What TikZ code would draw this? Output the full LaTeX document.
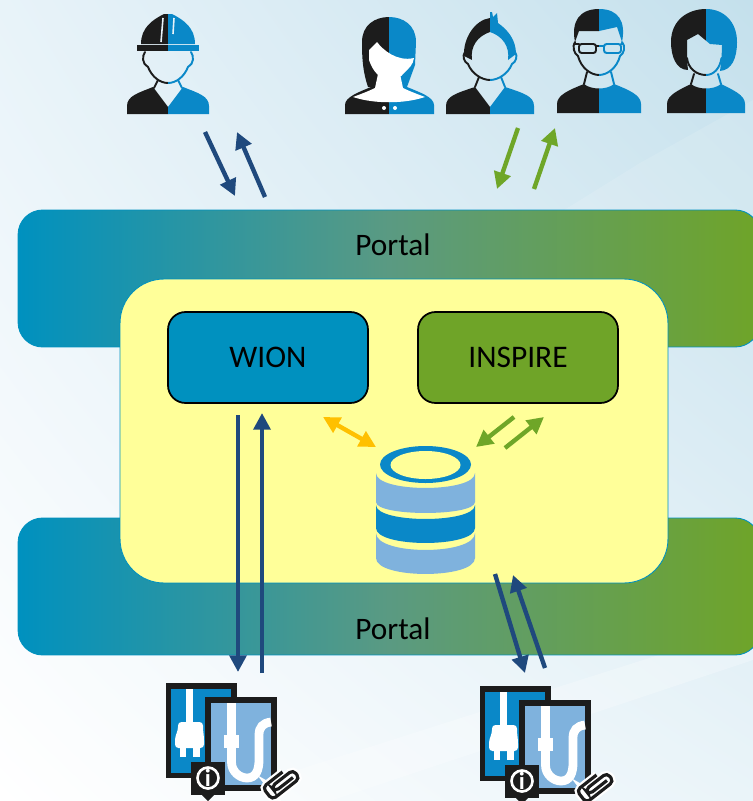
\documentclass[tikz,border=0pt]{standalone}
\usepackage{fontspec}
\setmainfont{Carlito}
\usetikzlibrary{arrows.meta,shadings}

\definecolor{wionblue}{HTML}{0091BF}
\definecolor{inspiregreen}{HTML}{6FA428}
\definecolor{bandmiddle}{HTML}{5A9A82}
\definecolor{coreyellow}{HTML}{FFFF99}
\definecolor{navyline}{HTML}{1F497D}
\definecolor{greenline}{HTML}{6FA628}
\definecolor{amberline}{HTML}{FFC000}
\definecolor{iconblack}{HTML}{1C1C1C}
\definecolor{iconblue}{HTML}{0A88C8}
\definecolor{iconlight}{HTML}{7FB2DD}
\definecolor{skyleft}{HTML}{E8F3F9}
\definecolor{skyright}{HTML}{C4E0EC}
\definecolor{floorright}{HTML}{EAF4F9}

\tikzset{
    band/.style={draw=wionblue, line width=0.5pt, rounded corners=14pt, left color=wionblue, right color=inspiregreen, middle color=bandmiddle, minimum width=14.84cm, minimum height=2.74cm, inner sep=0},
    appbox/.style={draw=black, line width=1pt, rounded corners=10pt, minimum width=4cm, minimum height=1.82cm, font=\fontsize{17.9}{21}\selectfont},
    label/.style={font=\fontsize{17.8}{21}\selectfont},
    navyarrow/.style={-{Triangle[length=9.5pt,width=9.5pt]}, draw=navyline, line width=2.5pt},
    greenarrow/.style={-{Triangle[length=9.5pt,width=9.5pt]}, draw=greenline, line width=2.5pt},
    amberarrow/.style={{Triangle[length=9.5pt,width=9.5pt]}-{Triangle[length=9.5pt,width=9.5pt]}, draw=amberline, line width=2.5pt},
    outline/.style={line width=1.1pt, line cap=round},
}

% draws #1 twice: black left of x=0, blue right of it
\newcommand{\bothhalves}[1]{
    \begin{scope}
        \clip (-60,0) rectangle (0,120);
        \def\halfcol{iconblack}
        #1
    \end{scope}
    \begin{scope}
        \clip (0,0) rectangle (60,120);
        \def\halfcol{iconblue}
        #1
    \end{scope}
}
\newcommand{\bustvee}[1]{
    \fill[\halfcol] (-#1,114) -- (-#1,106) .. controls (-#1,96) and (-#1+11,93) .. (-15,87) -- (0,107) -- (15,87) .. controls (#1-11,93) and (#1,96) .. (#1,106) -- (#1,114) -- cycle;
}
\newcommand{\bustround}[1]{
    \fill[\halfcol] (-#1,113) -- (-#1,104) .. controls (-#1,95) and (-#1+12,90) .. (-15,84) .. controls (-8,90) and (8,90) .. (15,84) .. controls (#1-12,90) and (#1,95) .. (#1,104) -- (#1,113) -- cycle;
}
\newcommand{\dbband}[5]{
    \fill[#5] (376,#1) .. controls (376,#1+1.33*#2) and (475,#1+1.33*#2) .. (475,#1) -- (475,#3) .. controls (475,#3+1.33*#4) and (376,#3+1.33*#4) .. (376,#3) -- cycle;
}
\newcommand{\deviceicon}[3]{
    \begin{scope}[shift={(#2,#3)}]
        \fill[iconblack] (166,683) rectangle (237,778);
        \fill[iconblue] (171,689) rectangle (231,773);
        \fill[white] (186,689) rectangle (193,723);
        \fill[white, rounded corners=2pt] (175,748) -- (175,737) -- (178,730) -- (178,722) -- (203,722) -- (203,730) -- (204,737) -- (204,748) -- cycle;
        \fill[white] (180,746) rectangle (186,757);
        \fill[white] (193,746) rectangle (200,757);
        \fill[iconblack] (205,697) rectangle (277,791);
        \fill[iconlight] (211,703) rectangle (271,785);
        \draw[white, line width=5pt] (231.5,746) -- (231.5,762) .. controls (231.5,772) and (240,778) .. (247,778) .. controls (256,778) and (259,770) .. (259,760) -- (259,735) .. controls (259,727) and (263,723) .. (271,722);
        \fill[white] (227,703) rectangle (236,735);
        \fill[white] (224,735) rectangle (239,748);
        \fill[iconblack] (191,762) rectangle (225,795);
        \fill[iconblack] (202,795) -- (208,801) -- (214,795) -- cycle;
        \draw[white, line width=1.5pt] (208,778) circle (10.5);
        \node[white, inner sep=0, font=\fontsize{14}{14}\selectfont\bfseries] (info#1) at (208,777.5) {i};
        \begin{scope}[shift={(282,783)}, rotate=38, scale=1.2, rounded corners=2.5pt]
            \draw[white, line width=4.4pt] (10,2) -- (-9,2) -- (-9,-3) -- (14,-3) -- (14,6) -- (-15,6) -- (-15,-7) -- (6,-7);
            \draw[iconblack, line width=1.8pt] (10,2) -- (-9,2) -- (-9,-3) -- (14,-3) -- (14,6) -- (-15,6) -- (-15,-7) -- (6,-7);
        \end{scope}
    \end{scope}
}

\begin{document}
\begin{tikzpicture}[x=0.02cm, y=-0.02cm]
    \clip (0,0) rectangle (753,801);
    % backdrop
    \shade[upper left=skyleft, upper right=skyright, lower left=white, lower right=floorright] (0,0) rectangle (753,801);
    \fill[white, opacity=0.12] (753,100) -- (640,163) -- (540,225) -- (753,225) -- cycle;
    \fill[white, opacity=0.25] (200,801) -- (753,625) -- (753,660) -- (330,801) -- cycle;

    % portal bands, core and applications
    \node[band] (portaltop) at (389,278.5) {};
    \node[band] (portalbottom) at (389,586.5) {};
    \node[draw=wionblue, line width=0.5pt, fill=coreyellow, rounded corners=25pt, minimum width=10.96cm, minimum height=6.08cm, inner sep=0] (core) at (394,431) {};
    \node[label] (portaltoplabel) at (393,245) {Portal};
    \node[label] (portalbottomlabel) at (393,629) {Portal};
    \node[appbox, fill=wionblue] (wion) at (268,357.5) {WION};
    \node[appbox, fill=inspiregreen] (inspire) at (518,357.5) {INSPIRE};

    % database
    \dbband{473}{15}{502}{11}{iconlight}
    \dbband{505}{14}{528}{15}{iconblue}
    \dbband{533}{17}{558}{16}{iconlight}
    \fill[iconblue] (425.5,464.5) ellipse [x radius=45.5, y radius=18.5];
    \fill[coreyellow] (425.5,465) ellipse [x radius=35, y radius=14];

    % engineer
    \begin{scope}[shift={(168,0)}]
        \bothhalves{
            \bustvee{41}
            \fill[\halfcol] (-27,44) .. controls (-27,28) and (-16,20) .. (-4,14) -- (4,14) .. controls (16,20) and (27,28) .. (27,44) -- cycle;
            \fill[\halfcol] (-31,45) rectangle (31,51);
            \draw[\halfcol, outline] (-23,52) .. controls (-26,56) and (-26,64) .. (-20,67) .. controls (-16,77) and (-8,83) .. (0,83) .. controls (8,83) and (16,77) .. (20,67) .. controls (26,64) and (26,56) .. (23,52);
            \draw[\halfcol, outline] (-10,80) -- (-14,88);
            \draw[\halfcol, outline] (10,80) -- (14,88);
        }
        \draw[skyleft, line width=0.9pt] (-5,18) -- (-7,42);
        \draw[skyleft, line width=0.9pt] (6,18) -- (5,34);
    \end{scope}

    % long hair
    \begin{scope}[shift={(389,0)}]
        \bothhalves{
            \fill[\halfcol] (-21,87) .. controls (-26,72) and (-27,60) .. (-27,42) .. controls (-27,25) and (-14,17) .. (0,17) .. controls (14,17) and (27,25) .. (27,42) -- (26,65) -- (18,87) -- cycle;
            \fill[\halfcol] (-44,114) -- (-44,105) .. controls (-44,97) and (-30,92) .. (-18,87) -- (18,87) .. controls (30,92) and (45,97) .. (45,105) -- (45,114) -- cycle;
        }
        \fill[white] (-20,50) -- (-12,42) .. controls (-6,50) and (8,62) .. (25,58) .. controls (24,65) and (20,68) .. (16,72) .. controls (12,78) and (5,80) .. (0,80) .. controls (-8,80) and (-16,72) .. (-20,60) -- cycle;
        \fill[white] (-11,74) -- (11,74) -- (14,88) .. controls (20,91) and (28,94) .. (36,97) .. controls (15,104) and (-15,104) .. (-36,97) .. controls (-28,94) and (-20,91) .. (-14,88) -- cycle;
        \fill[white] (-5,108) circle (2);
        \fill[white] (6,108) circle (2);
    \end{scope}

    % spiky hair
    \begin{scope}[shift={(490,0)}]
        \bothhalves{
            \bustvee{44}
            \fill[\halfcol] (-26,56) .. controls (-27,38) and (-15,20) .. (0,18) -- (0,12) -- (2,12) -- (3,17) -- (7,13) -- (8,23) .. controls (18,30) and (26,40) .. (26,54) -- (18,60) .. controls (20,46) and (12,36) .. (0,32) .. controls (-12,36) and (-20,46) .. (-18,60) -- cycle;
            \draw[\halfcol, outline] (-25,52) .. controls (-28,56) and (-26,62) .. (-22,64) .. controls (-18,74) and (-8,80) .. (0,80) .. controls (8,80) and (18,74) .. (22,64) .. controls (26,62) and (28,56) .. (25,52);
            \draw[\halfcol, outline] (-11,77) -- (-15,87);
            \draw[\halfcol, outline] (11,77) -- (15,87);
        }
    \end{scope}

    % glasses
    \begin{scope}[shift={(599,0)}]
        \bothhalves{
            \bustround{42}
            \fill[\halfcol] (-24,42) .. controls (-28,22) and (-20,9) .. (0,9) .. controls (20,9) and (27,22) .. (23,42) -- (18,27) -- (0,31) -- (-20,31) -- cycle;
            \draw[\halfcol, outline] (-24,42) .. controls (-27,46) and (-25,54) .. (-21,56) .. controls (-18,68) and (-8,75) .. (0,75) .. controls (8,75) and (18,68) .. (21,56) .. controls (25,54) and (27,46) .. (23,42);
            \draw[\halfcol, outline] (-12,72) -- (-15,84);
            \draw[\halfcol, outline] (12,72) -- (15,84);
            \draw[\halfcol, outline, rounded corners=1.5pt] (-20,44) rectangle (-3,53);
            \draw[\halfcol, outline, rounded corners=1.5pt] (5,44) rectangle (22,53);
            \draw[\halfcol, outline] (-3,46) -- (5,46);
            \draw[\halfcol, outline] (-25,44) -- (-20,44);
            \draw[\halfcol, outline] (22,44) -- (24,44);
        }
    \end{scope}

    % bob
    \begin{scope}[shift={(706,0)}]
        \bothhalves{
            \bustround{39}
            \fill[\halfcol] (-18,70) .. controls (-30,70) and (-35,56) .. (-35,42) .. controls (-35,20) and (-18,9) .. (0,9) .. controls (18,9) and (31,22) .. (31,42) .. controls (31,58) and (26,70) .. (14,71) -- (15.5,60) -- (16,45) -- (4,44) -- (-8,34) -- (-19,40) -- (-19,60) -- cycle;
            \draw[\halfcol, outline] (-19,58) .. controls (-18,68) and (-10,75) .. (0,75) .. controls (8,75) and (14,68) .. (15.5,58);
            \draw[\halfcol, outline] (-12,74) -- (-15,84);
            \draw[\halfcol, outline] (12,74) -- (15,84);
        }
    \end{scope}

    % documents
    \deviceicon{wion}{0}{0}
    \deviceicon{inspire}{314}{3}

    % connector ends
    \coordinate (engdowna) at (205,132);
    \coordinate (engdownb) at (235,196);
    \coordinate (engupa) at (265,197);
    \coordinate (engupb) at (237,132);
    \coordinate (userdowna) at (518,128);
    \coordinate (userdownb) at (497,189);
    \coordinate (userupa) at (534,189);
    \coordinate (userupb) at (555,128);
    \coordinate (wiondowna) at (238,415);
    \coordinate (wiondownb) at (238,672);
    \coordinate (wionupa) at (262,673);
    \coordinate (wionupb) at (262,413);
    \coordinate (dbwiona) at (323,417);
    \coordinate (dbwionb) at (376,447);
    \coordinate (dbdowna) at (514,417);
    \coordinate (dbdownb) at (476,447);
    \coordinate (dbupa) at (505,448);
    \coordinate (dbupb) at (544,417);
    \coordinate (docdowna) at (495,574);
    \coordinate (docdownb) at (525,673);
    \coordinate (docupa) at (545,668);
    \coordinate (docupb) at (513,575);

    \draw[navyarrow] (engdowna) -- (engdownb);
    \draw[navyarrow] (engupa) -- (engupb);
    \draw[greenarrow] (userdowna) -- (userdownb);
    \draw[greenarrow] (userupa) -- (userupb);
    \draw[navyarrow] (wiondowna) -- (wiondownb);
    \draw[navyarrow] (wionupa) -- (wionupb);
    \draw[amberarrow] (dbwiona) -- (dbwionb);
    \draw[greenarrow] (dbdowna) -- (dbdownb);
    \draw[greenarrow] (dbupa) -- (dbupb);
    \draw[navyarrow] (docdowna) -- (docdownb);
    \draw[navyarrow] (docupa) -- (docupb);
\end{tikzpicture}
\end{document}
